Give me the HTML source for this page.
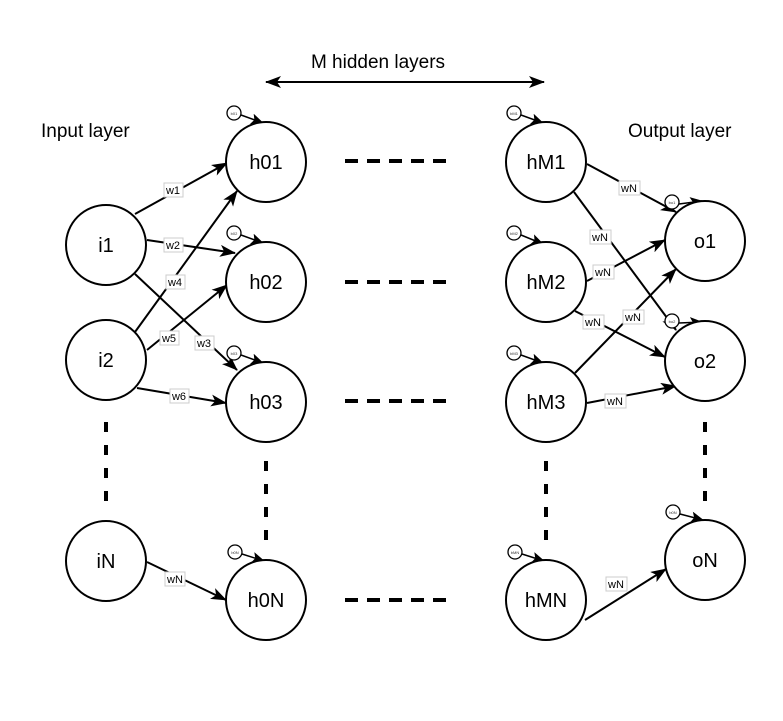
<!DOCTYPE html>
<html><head><meta charset="utf-8"><style>
html,body{margin:0;padding:0;background:#fff;}
svg{display:block;}
text{font-family:"Liberation Sans",Arial,sans-serif;}
</style></head><body>
<svg width="783" height="721" viewBox="0 0 783 721" xmlns="http://www.w3.org/2000/svg">
<defs>
<marker id="a" viewBox="0 0 16 12" refX="15" refY="6" markerWidth="16" markerHeight="12" markerUnits="userSpaceOnUse" orient="auto">
<path d="M0,0 L16,6 L0,12 L4,6 z" fill="#000"/>
</marker>
<marker id="a2" viewBox="0 0 16 12" refX="1" refY="6" markerWidth="16" markerHeight="12" markerUnits="userSpaceOnUse" orient="auto">
<path d="M16,0 L0,6 L16,12 L12,6 z" fill="#000"/>
</marker>
<marker id="b" viewBox="0 0 14 12" refX="13" refY="6" markerWidth="13" markerHeight="11" markerUnits="userSpaceOnUse" orient="auto">
<path d="M0,0 L14,6 L0,12 L3,6 z" fill="#000"/>
</marker>
</defs>

<text x="378" y="68" font-size="19" text-anchor="middle">M hidden layers</text>
<line x1="266" y1="82" x2="544" y2="82" stroke="#000" stroke-width="2" marker-start="url(#a2)" marker-end="url(#a)"/>

<text x="41" y="137" font-size="19">Input layer</text>
<text x="628" y="137" font-size="19">Output layer</text>

<g stroke="#000" stroke-width="4" stroke-dasharray="13 9">
<line x1="345" y1="161" x2="455" y2="161"/>
<line x1="345" y1="282" x2="455" y2="282"/>
<line x1="345" y1="401" x2="455" y2="401"/>
<line x1="345" y1="600" x2="455" y2="600"/>
</g>
<g stroke="#000" stroke-width="4" stroke-dasharray="10 13">
<line x1="106" y1="422" x2="106" y2="502"/>
<line x1="705" y1="422" x2="705" y2="502"/>
<line x1="266" y1="461" x2="266" y2="541"/>
<line x1="546" y1="461" x2="546" y2="541"/>
</g>

<g stroke="#000" stroke-width="2" fill="none" marker-end="url(#a)">
<line x1="135" y1="214" x2="227" y2="163"/>
<line x1="147" y1="240" x2="235" y2="253"/>
<line x1="135" y1="274" x2="237" y2="370"/>
<line x1="135" y1="332" x2="237" y2="191"/>
<line x1="147" y1="350" x2="227" y2="285"/>
<line x1="137" y1="388" x2="226" y2="403"/>
<line x1="147" y1="562" x2="226" y2="600"/>
<line x1="587" y1="164" x2="676" y2="212"/>
<line x1="574" y1="192" x2="676" y2="330"/>
<line x1="587" y1="281" x2="665" y2="240"/>
<line x1="575" y1="311" x2="665" y2="357"/>
<line x1="575" y1="373" x2="676" y2="269"/>
<line x1="587" y1="403" x2="676" y2="386"/>
<line x1="585" y1="620" x2="666" y2="569"/>
</g>

<g font-size="11" text-anchor="middle">
<g fill="#fff" stroke="#ccc" stroke-width="1">
<rect x="164" y="183" width="19" height="14"/>
<rect x="164" y="238" width="19" height="14"/>
<rect x="195" y="336" width="19" height="14"/>
<rect x="166" y="275" width="19" height="14"/>
<rect x="160" y="331" width="19" height="14"/>
<rect x="170" y="389" width="19" height="14"/>
<rect x="165" y="572" width="20" height="14"/>
<rect x="619" y="181" width="21" height="14"/>
<rect x="590" y="230" width="21" height="14"/>
<rect x="593" y="265" width="21" height="14"/>
<rect x="583" y="315" width="21" height="14"/>
<rect x="623" y="310" width="21" height="14"/>
<rect x="605" y="394" width="21" height="14"/>
<rect x="606" y="577" width="21" height="14"/>
</g>
<text x="173" y="194">w1</text>
<text x="173" y="249">w2</text>
<text x="204" y="347">w3</text>
<text x="175" y="286">w4</text>
<text x="169" y="342">w5</text>
<text x="179" y="400">w6</text>
<text x="175" y="583">wN</text>
<text x="629" y="192">wN</text>
<text x="600" y="241">wN</text>
<text x="603" y="276">wN</text>
<text x="593" y="326">wN</text>
<text x="633" y="321">wN</text>
<text x="615" y="405">wN</text>
<text x="616" y="588">wN</text>
</g>

<g stroke="#000" stroke-width="1.3" fill="#fff">
<circle cx="234" cy="113" r="7"/>
<circle cx="234" cy="233" r="7"/>
<circle cx="234" cy="353" r="7"/>
<circle cx="235" cy="552" r="7"/>
<circle cx="514" cy="113" r="7"/>
<circle cx="514" cy="233" r="7"/>
<circle cx="514" cy="353" r="7"/>
<circle cx="515" cy="552" r="7"/>
<circle cx="672" cy="202" r="7"/>
<circle cx="672" cy="321" r="7"/>
<circle cx="673" cy="512" r="7"/>
</g>
<g font-size="4" text-anchor="middle" fill="#333">
<text x="234" y="115">b01</text><text x="234" y="235">b02</text><text x="234" y="355">b03</text><text x="235" y="554">b0N</text>
<text x="514" y="115">bM1</text><text x="514" y="235">bM2</text><text x="514" y="355">bM3</text><text x="515" y="554">bMN</text>
<text x="672" y="204">bo1</text><text x="672" y="323">bo2</text><text x="673" y="514">b0N</text>
</g>
<g stroke="#000" stroke-width="1.5" marker-end="url(#b)">
<line x1="241" y1="115" x2="263" y2="123"/>
<line x1="241" y1="235" x2="263" y2="243"/>
<line x1="241" y1="355" x2="263" y2="363"/>
<line x1="242" y1="554" x2="264" y2="561"/>
<line x1="521" y1="115" x2="543" y2="123"/>
<line x1="521" y1="235" x2="543" y2="244"/>
<line x1="521" y1="355" x2="543" y2="363"/>
<line x1="522" y1="554" x2="544" y2="561"/>
<line x1="679" y1="204" x2="702" y2="201"/>
<line x1="679" y1="323" x2="702" y2="322"/>
<line x1="680" y1="514" x2="703" y2="520"/>
</g>

<g stroke="#000" stroke-width="2" fill="#fff">
<circle cx="106" cy="245" r="40"/>
<circle cx="106" cy="360" r="40"/>
<circle cx="106" cy="561" r="40"/>
<circle cx="266" cy="162" r="40"/>
<circle cx="266" cy="282" r="40"/>
<circle cx="266" cy="402" r="40"/>
<circle cx="266" cy="600" r="40"/>
<circle cx="546" cy="162" r="40"/>
<circle cx="546" cy="282" r="40"/>
<circle cx="546" cy="402" r="40"/>
<circle cx="546" cy="600" r="40"/>
<circle cx="705" cy="241" r="40"/>
<circle cx="705" cy="361" r="40"/>
<circle cx="705" cy="560" r="40"/>
</g>
<g font-size="20" text-anchor="middle">
<text x="106" y="252">i1</text>
<text x="106" y="367">i2</text>
<text x="106" y="568">iN</text>
<text x="266" y="169">h01</text>
<text x="266" y="289">h02</text>
<text x="266" y="409">h03</text>
<text x="266" y="607">h0N</text>
<text x="546" y="169">hM1</text>
<text x="546" y="289">hM2</text>
<text x="546" y="409">hM3</text>
<text x="546" y="607">hMN</text>
<text x="705" y="248">o1</text>
<text x="705" y="368">o2</text>
<text x="705" y="567">oN</text>
</g>
</svg>
</body></html>
